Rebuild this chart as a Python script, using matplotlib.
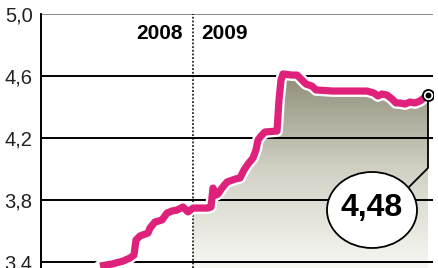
import numpy as np
import matplotlib
matplotlib.use("Agg")
import matplotlib.pyplot as plt
from matplotlib.patches import Ellipse, Polygon
from matplotlib.colors import LinearSegmentedColormap

# ---- data (x = trading-day position along the axis, 0..392) ----
day = [59, 71, 82, 89, 93, 95, 99, 107, 109, 114, 121, 126, 131, 136, 142, 147,
       152, 167, 170, 172, 175, 177, 181, 186, 194, 199, 203, 207, 212, 215, 217,
       220, 224, 236, 238, 240, 242, 251, 256, 261, 265, 271, 275, 292, 309, 326,
       333, 337, 341, 346, 351, 355, 359, 364, 369, 374, 379, 387]
rate = [3.374, 3.387, 3.406, 3.426, 3.445, 3.542, 3.568, 3.587, 3.619, 3.658,
        3.671, 3.716, 3.729, 3.735, 3.755, 3.723, 3.748, 3.748, 3.755, 3.877,
        3.832, 3.839, 3.877, 3.916, 3.935, 3.942, 3.994, 4.032, 4.071, 4.123,
        4.187, 4.213, 4.239, 4.245, 4.445, 4.574, 4.613, 4.606, 4.606, 4.574,
        4.548, 4.535, 4.510, 4.503, 4.503, 4.503, 4.490, 4.471, 4.484, 4.477,
        4.452, 4.426, 4.426, 4.419, 4.432, 4.426, 4.439, 4.48]
year_split = 152          # 1 Jan 2009
year_labels = ["2008", "2009"]
yticks = [3.4, 3.8, 4.2, 4.6, 5.0]
ytick_labels = ["3,4", "3,8", "4,2", "4,6", "5,0"]
last_label = "4,48"

W, H = 439, 268
fig = plt.figure(figsize=(W / 100, H / 100), dpi=100)
ax = fig.add_axes([41 / W, 0, (433 - 41) / W, (268 - 14) / H])
ymin = 5.0 - 254 / 155
ax.set_xlim(0, 392)
ax.set_ylim(ymin, 5.0)

day_a = np.array(day, float)
rate_a = np.array(rate, float)

# gradient fill from 2009 on
mask = day_a >= year_split
fx = np.concatenate([[year_split], day_a[mask]])
fy = np.concatenate([[np.interp(year_split, day_a, rate_a)], rate_a[mask]])
poly_xy = np.column_stack([np.concatenate([fx, [fx[-1], fx[0]]]),
                           np.concatenate([fy, [ymin, ymin]])])
poly = Polygon(poly_xy, closed=True, facecolor="none", edgecolor="none")
ax.add_patch(poly)
cmap = LinearSegmentedColormap.from_list("g", ["#f7f7f3", "#d2d1c4", "#8e8c78"])
grad = np.linspace(0, 1, 256).reshape(-1, 1)
im = ax.imshow(grad, extent=[0, 392, ymin, 4.62], origin="lower", aspect="auto",
               cmap=cmap, zorder=1)
im.set_clip_path(poly)

# grid lines
for v in yticks[:-1]:
    ax.axhline(v, color="black", lw=1.4, zorder=2)
ax.axhline(5.0, color="#8a8a8a", lw=1.4, zorder=2)
ax.axvline(year_split, color="black", lw=1.1, ls=(0, (1.2, 1.2)), zorder=2)

# line with white halo
ax.plot(day_a, rate_a, color="white", lw=8.5, solid_joinstyle="round",
        solid_capstyle="round", zorder=3)
ax.plot(day_a, rate_a, color="#e0217c", lw=5.2, solid_joinstyle="round",
        solid_capstyle="butt", zorder=4)

# spines / ticks
for s in ["top", "right", "bottom"]:
    ax.spines[s].set_visible(False)
ax.spines["left"].set_linewidth(1.4)
ax.set_xticks([])
ax.set_yticks(yticks)
ax.set_yticklabels(ytick_labels, family="Liberation Sans", fontsize=14.5, color="#222222")
ax.tick_params(axis="y", length=0, pad=6)

# year labels
ax.text(160 - 41, 5.0 - (33 - 14) / 155, year_labels[0], ha="center", va="center",
        family="Liberation Sans", weight="bold", fontsize=15, zorder=5)
ax.text(225 - 41, 5.0 - (33 - 14) / 155, year_labels[1], ha="center", va="center",
        family="Liberation Sans", weight="bold", fontsize=15, zorder=5)

# callout
lx, ly = day_a[-1], rate_a[-1]
cx, cy = 372 - 41, 5.0 - (210 - 14) / 155
ax.plot([lx, lx, 409 - 41], [ly, 5.0 - (168 - 14) / 155, 5.0 - (187 - 14) / 155],
        color="black", lw=1.3, zorder=5)
ax.add_patch(Ellipse((cx, cy), 90, 76 / 155, facecolor="white", edgecolor="black",
                     lw=1.3, zorder=6))
ax.text(cx, cy + 0.015, last_label, ha="center", va="center",
        family="Liberation Sans", weight="bold", fontsize=23, zorder=7)
ax.plot([lx], [ly], marker="o", ms=8, mfc="white", mec="black", mew=1.3, zorder=8)
ax.plot([lx], [ly], marker="o", ms=3.2, color="black", zorder=9)

fig.savefig("out.png", dpi=100)
